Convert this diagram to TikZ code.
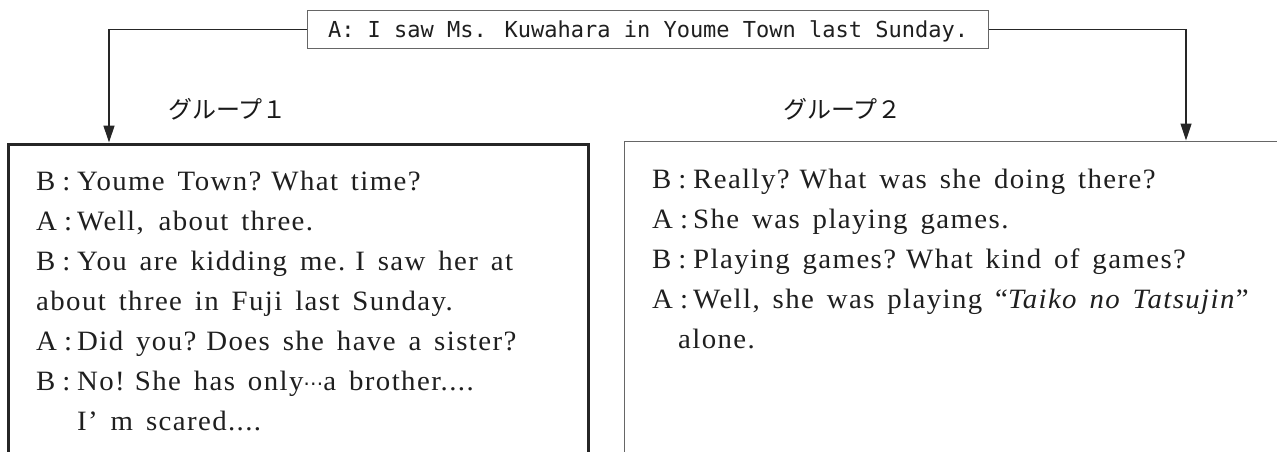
\documentclass[tikz,border=0pt]{standalone}
\usepackage{fontspec}
\setmainfont{Liberation Serif}
\newfontfamily\bodyfont{Liberation Serif}[FakeStretch=1.03,LetterSpace=5,WordSpace=1.5]
\newfontfamily\jpfont{Noto Sans CJK JP}
\newfontfamily\topfont{DejaVu Sans Mono}
\newfontfamily\symfont{DejaVu Sans}
\usetikzlibrary{arrows.meta,calc}
\newcommand\spk[1]{\makebox[41pt][l]{#1\hspace{7pt}:}}
\newcommand\gapq{\hspace{10pt}}
\tikzset{
  conn/.style={draw=black!85, line width=1.3pt, -{Triangle[length=17pt,width=11pt]}},
  txt/.style={anchor=base west, inner sep=0pt, text=black!88,
    font=\bodyfont\fontsize{28}{28}\selectfont},
  grp/.style={anchor=base west, inner sep=0pt, text=black!90,
    font=\jpfont\fontsize{24}{24}\selectfont},
  topbox/.style={draw=black!60, line width=1.2pt, minimum width=681pt, minimum height=38pt,
    inner sep=0pt, text height=27pt, text depth=11pt, text=black!88,
    font=\topfont\fontsize{22}{22}\selectfont},
  boxA/.style={draw=black!85, line width=3pt, minimum width=580pt, minimum height=360pt,
    inner sep=0pt},
  boxB/.style={draw=black!60, line width=1.4pt, minimum width=700pt, minimum height=360pt,
    inner sep=0pt},
}
\begin{document}
\begin{tikzpicture}[x=1pt,y=-1pt]
\useasboundingbox (0,0) rectangle (1277,452);
\clip (0,0) rectangle (1277,452);
\fill[white] (0,0) rectangle (1277,452);

\node[topbox, anchor=north west] (top) at (307,10) {A: I saw Ms. Kuwahara in Youme Town last Sunday.};

\node[grp] (g1) at (168,118) {グループ１};
\node[grp] (g2) at (783,118) {グループ２};

\node[boxA, anchor=north west] (boxa) at (6.5,142.5) {};
\node[boxB, anchor=north west] (boxb) at (624,140.5) {};

\coordinate (ta) at ($(boxa.north west)+(102.5,0)$);
\coordinate (tb) at ($(boxb.north west)+(562,0)$);
\draw[conn] (top.west) -| (ta);
\draw[conn] (top.east) -| (tb);

\node[txt] (a1) at (36,190) {\spk{B}Youme Town?\gapq What time?};
\node[txt] (a2) at (36,230) {\spk{A}Well, \hspace{2pt}about three.};
\node[txt] (a3) at (36,270) {\spk{B}You are kidding me.\gapq I saw her at};
\node[txt] (a4) at (36,310) {about three in Fuji last Sunday.};
\node[txt] (a5) at (36,350) {\spk{A}Did you?\gapq Does she have a sister?};
\node[txt] (a6) at (36,390) {\spk{B}No!\gapq She has only{\symfont\fontsize{20}{20}\selectfont ⋯}a brother....};
\node[txt] (a7) at (77,430) {I’ m scared....};

\node[txt] (b1) at (652,188) {\spk{B}Really?\gapq What was she doing there?};
\node[txt] (b2) at (652,228) {\spk{A}She was playing games.};
\node[txt] (b3) at (652,268) {\spk{B}Playing games?\gapq What kind of games?};
\node[txt] (b4) at (652,308) {\spk{A}Well, she was playing “\textit{Taiko no Tatsujin}”};
\node[txt] (b5) at (678,348) {alone.};
\end{tikzpicture}
\end{document}
